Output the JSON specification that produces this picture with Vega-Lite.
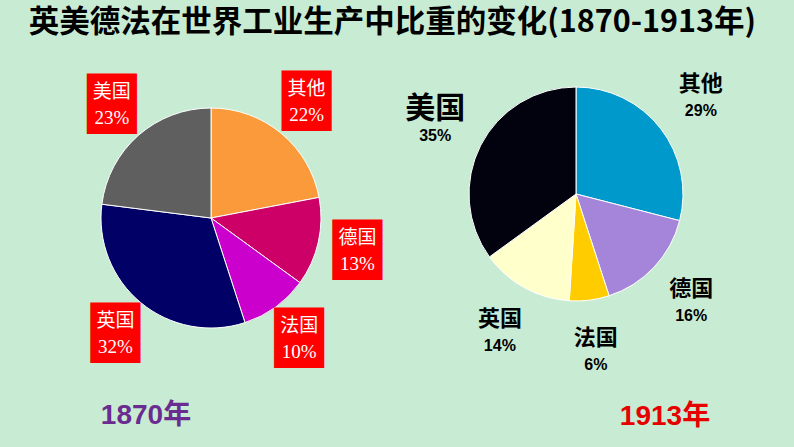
{
  "$schema": "https://vega.github.io/schema/vega-lite/v6.json",
  "background": "#c8ecd3",
  "padding": {"left": 28, "top": 7, "right": 80, "bottom": 30},
  "title": {"text": "英美德法在世界工业生产中比重的变化(1870-1913年)", "anchor": "start", "dx": -64, "fontSize": 30.5, "font": "Liberation Sans Narrow, Noto Sans CJK SC", "fontWeight": "bold", "color": "#000000", "offset": 35},
  "config": {"view": {"stroke": "#eef5e6", "strokeWidth": 1}},
  "spacing": 28,
  "resolve": {"scale": {"color": "independent"}},
  "hconcat": [
    {
      "bounds": "flush",
      "spacing": 0,
      "vconcat": [
        {
          "width": 220, "height": 21,
          "view": {"stroke": null},
          "data": {"values": [{"blank": ""}]},
          "mark": {"type": "text", "text": ""}
        },
        {
          "width": 220, "height": 220,
          "title": {"text": "1870年", "orient": "bottom", "anchor": "middle", "dx": -65, "offset": 40, "fontSize": 28, "font": "Liberation Sans, Noto Sans CJK SC", "fontWeight": "bold", "color": "#6a2c91"},
          "data": {"values": [
            {"country": "其他", "share": 0.22, "k": 1},
            {"country": "德国", "share": 0.13, "k": 2},
            {"country": "法国", "share": 0.10, "k": 3},
            {"country": "英国", "share": 0.32, "k": 4},
            {"country": "美国", "share": 0.23, "k": 5}
          ]},
          "encoding": {
            "theta": {"field": "share", "type": "quantitative", "stack": true},
            "order": {"field": "k", "type": "quantitative"}
          },
          "layer": [
            {"mark": {"type": "arc", "stroke": "#ffffff", "strokeWidth": 1},
             "encoding": {"color": {"field": "country", "type": "nominal", "scale": {"domain": ["其他", "德国", "法国", "英国", "美国"], "range": ["#fb9a3a", "#cc0066", "#cc00cc", "#000066", "#5f5f5f"]}, "legend": null}}},
            {"mark": {"type": "text", "radius": 150, "text": "█", "fontSize": 18, "font": "DejaVu Sans Mono", "fill": "#ff0000", "stroke": "#ff0000", "strokeWidth": 39, "strokeJoin": "miter", "baseline": "middle", "align": "center"}},
            {"mark": {"type": "text", "radius": 150, "dy": -13, "fontSize": 19, "font": "Liberation Serif, Noto Sans CJK SC", "fill": "#ffffff", "baseline": "middle", "align": "center"},
             "encoding": {"text": {"field": "country"}}},
            {"mark": {"type": "text", "radius": 150, "dy": 13, "fontSize": 19, "font": "Liberation Serif, Noto Sans CJK SC", "fill": "#ffffff", "baseline": "middle", "align": "center"},
             "encoding": {"text": {"field": "share", "type": "quantitative", "format": ".0%"}}}
          ]
        }
      ]
    },
    {
      "width": 214, "height": 214,
      "title": {"text": "1913年", "orient": "bottom", "anchor": "middle", "dx": 89, "offset": 30, "fontSize": 28, "font": "Liberation Sans, Noto Sans CJK SC", "fontWeight": "bold", "color": "#e60000"},
      "data": {"values": [
        {"country": "其他", "share": 0.29, "k": 1},
        {"country": "德国", "share": 0.16, "k": 2},
        {"country": "法国", "share": 0.06, "k": 3},
        {"country": "英国", "share": 0.14, "k": 4},
        {"country": "美国", "share": 0.35, "k": 5}
      ]},
      "encoding": {
        "theta": {"field": "share", "type": "quantitative", "stack": true},
        "order": {"field": "k", "type": "quantitative"}
      },
      "layer": [
        {"mark": {"type": "arc", "stroke": "#ffffff", "strokeWidth": 1},
         "encoding": {"color": {"field": "country", "type": "nominal", "scale": {"domain": ["其他", "德国", "法国", "英国", "美国"], "range": ["#0099cc", "#a585d9", "#ffcc00", "#ffffcc", "#02020f"]}, "legend": null}}},
        {"mark": {"type": "text", "radius": 158, "dy": -13, "font": "Noto Sans CJK SC", "fontWeight": "bold", "fill": "#000000", "baseline": "middle", "align": "center"},
         "encoding": {"text": {"field": "country"}, "size": {"condition": {"test": "datum.country === '美国'", "value": 30}, "value": 22}}},
        {"mark": {"type": "text", "radius": 158, "dy": 14, "fontSize": 16, "font": "Liberation Sans Narrow, Liberation Sans", "fontWeight": "bold", "fill": "#000000", "baseline": "middle", "align": "center"},
         "encoding": {"text": {"field": "share", "type": "quantitative", "format": ".0%"}}}
      ]
    }
  ]
}
